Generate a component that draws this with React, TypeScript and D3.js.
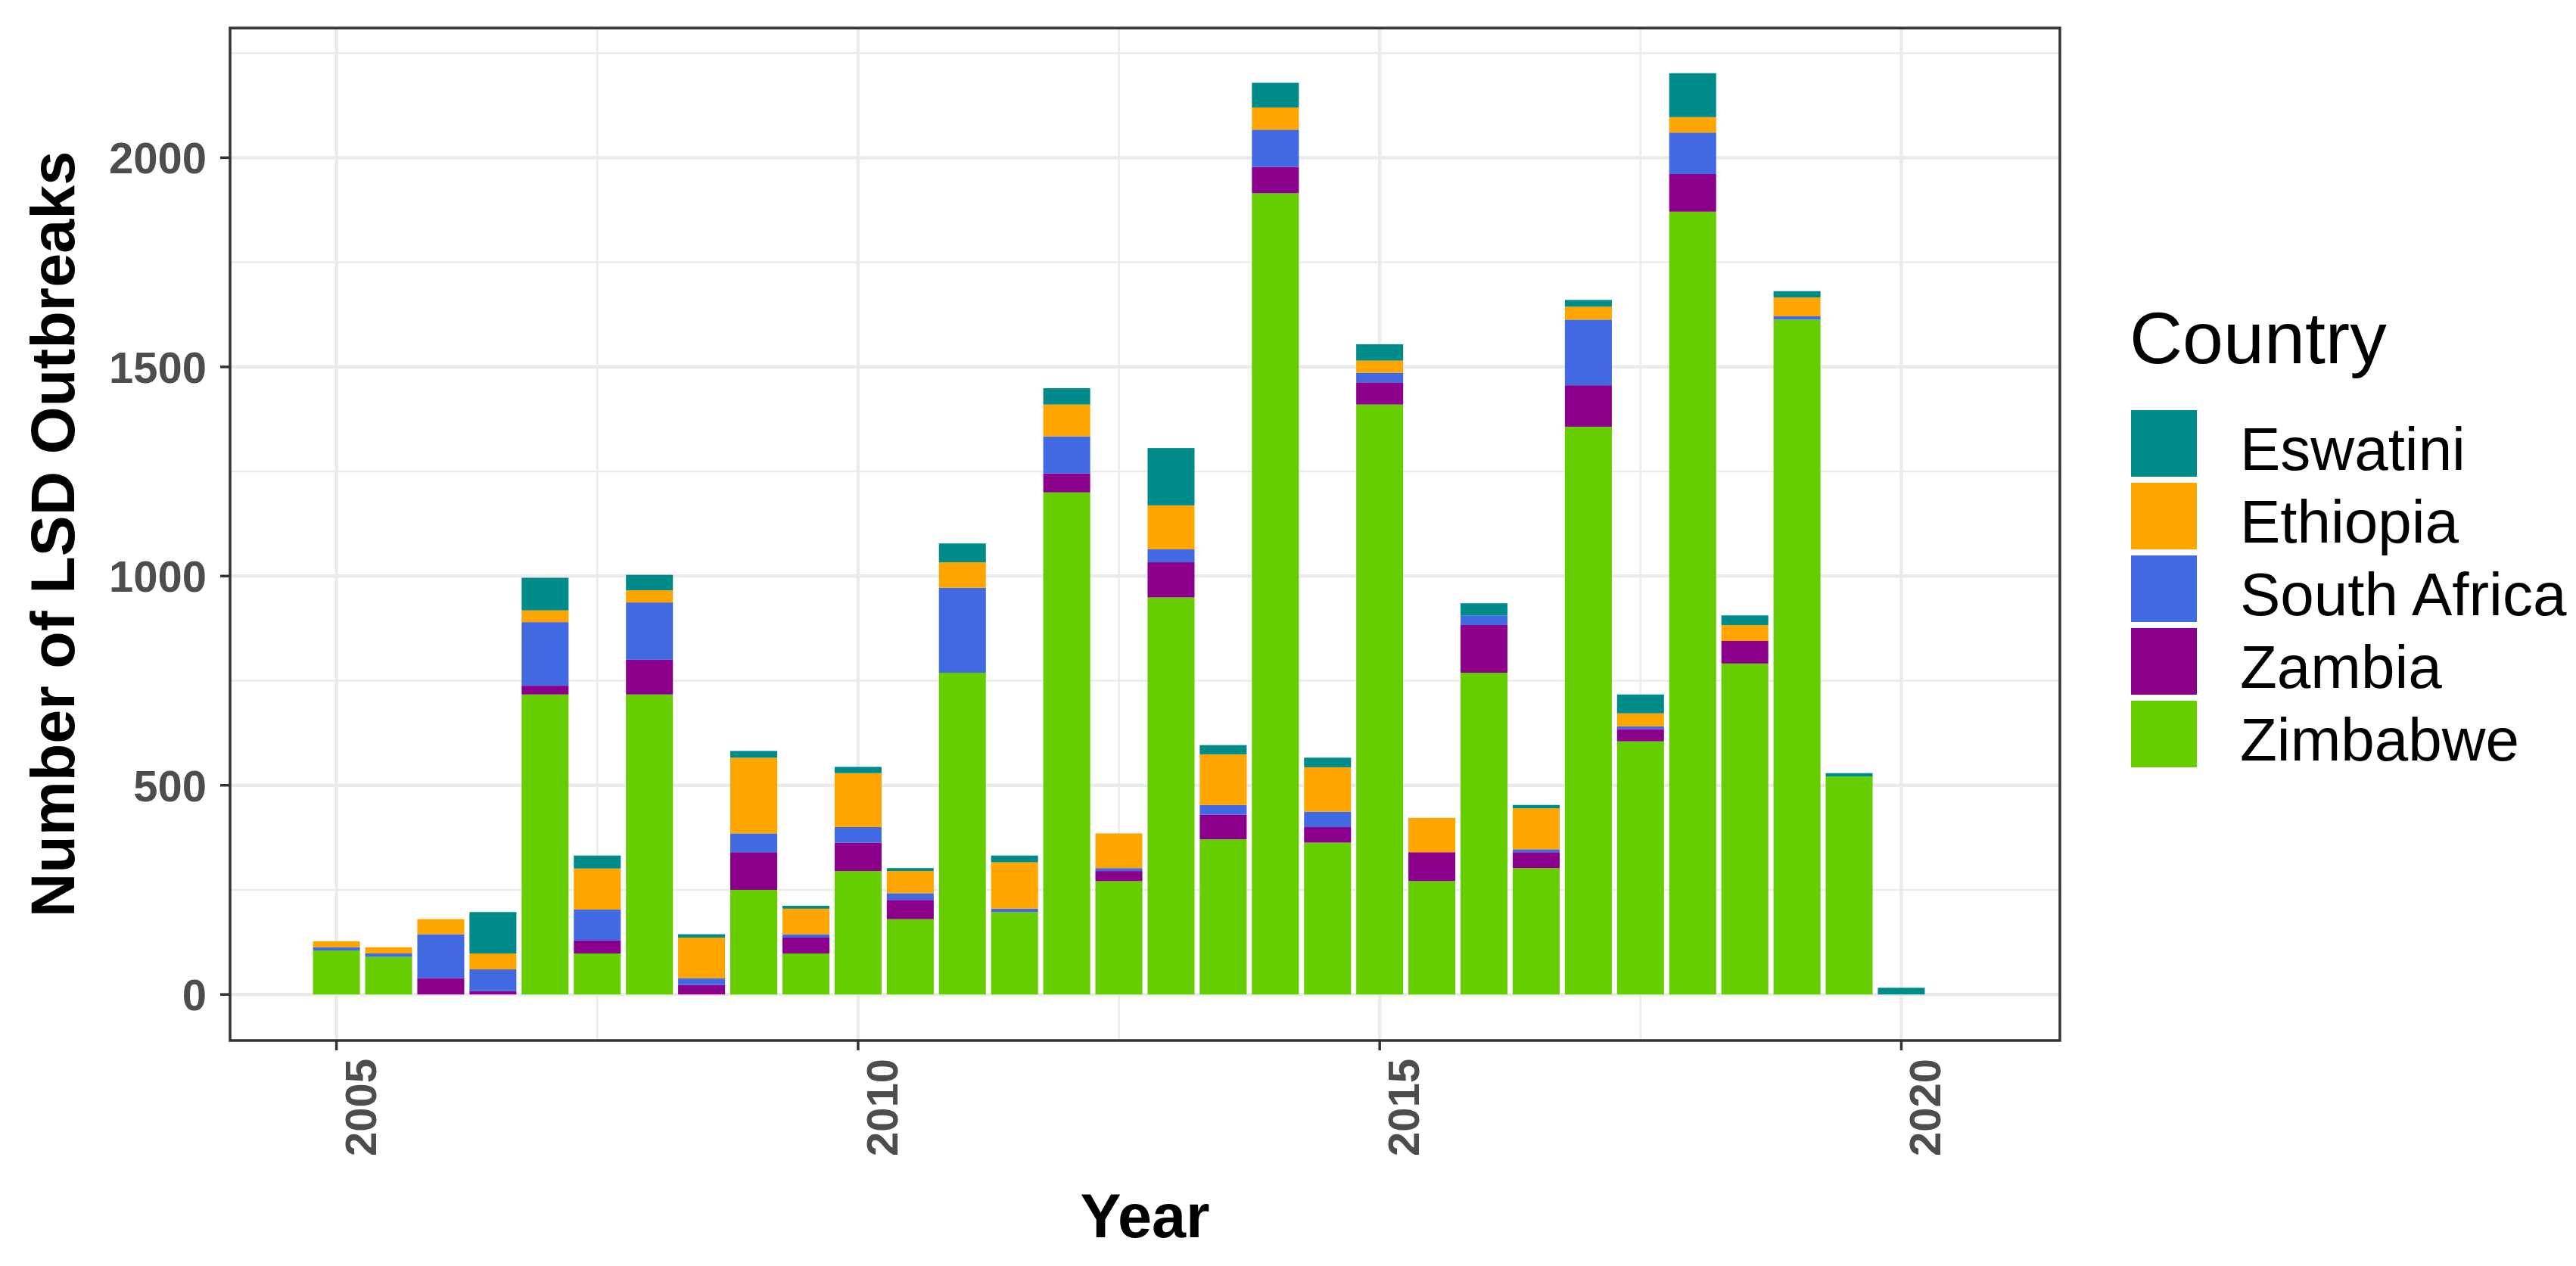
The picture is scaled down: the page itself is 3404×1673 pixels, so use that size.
import React from "react";
import * as d3 from "d3";

const periods = [
  2005, 2005.5, 2006, 2006.5, 2007, 2007.5, 2008, 2008.5, 2009, 2009.5,
  2010, 2010.5, 2011, 2011.5, 2012, 2012.5, 2013, 2013.5, 2014, 2014.5,
  2015, 2015.5, 2016, 2016.5, 2017, 2017.5, 2018, 2018.5, 2019, 2019.5, 2020,
];

const zimbabwe = [105, 90, 0, 0, 717, 98, 717, 0, 250, 98, 295, 180, 769, 197, 1200, 271, 949, 371, 1915, 363, 1410, 271, 769, 302, 1357, 605, 1871, 791, 1613, 521, 0];
const zambia = [0, 0, 39, 8, 21, 31, 83, 23, 90, 38, 68, 46, 0, 0, 45, 24, 84, 59, 63, 37, 53, 69, 114, 38, 99, 29, 90, 54, 0, 0, 0];
const southAfrica = [8, 8, 105, 52, 152, 74, 137, 16, 45, 8, 37, 16, 203, 8, 89, 7, 31, 23, 89, 37, 23, 0, 23, 7, 157, 7, 99, 0, 8, 0, 0];
const ethiopia = [14, 15, 36, 38, 28, 98, 29, 97, 181, 61, 129, 53, 61, 111, 76, 83, 105, 121, 53, 106, 29, 82, 0, 98, 31, 31, 37, 38, 45, 0, 0];
const eswatini = [0, 0, 0, 99, 78, 31, 37, 8, 16, 7, 15, 7, 45, 16, 39, 0, 137, 22, 59, 23, 39, 0, 29, 8, 16, 45, 105, 23, 15, 8, 16];

const countries = ["Eswatini", "Ethiopia", "South Africa", "Zambia", "Zimbabwe"];
const colors = ["#008B8B", "#FFA500", "#4169E1", "#8B008B", "#66CD00"];
const stackOrder = ["Zimbabwe", "Zambia", "South Africa", "Ethiopia", "Eswatini"];

const yTicks = [0, 500, 1000, 1500, 2000];
const yMinor = [250, 750, 1250, 1750, 2250];
const xTicks = [2005, 2010, 2015, 2020];
const xMinor = [2007.5, 2012.5, 2017.5];

const W = 3404;
const H = 1673;
const P = { left: 304, right: 2722, top: 37, bottom: 1375 };
const FONT = "'Liberation Sans', Arial, Helvetica, sans-serif";

export default function App() {
  const rows = periods.map((p, i) => ({
    period: p,
    Zimbabwe: zimbabwe[i],
    Zambia: zambia[i],
    "South Africa": southAfrica[i],
    Ethiopia: ethiopia[i],
    Eswatini: eswatini[i],
  }));
  const x = d3.scaleLinear().domain([2003.98, 2021.52]).range([P.left, P.right]);
  const y = d3.scaleLinear().domain([-110, 2310]).range([P.bottom, P.top]);
  const color = d3.scaleOrdinal<string, string>().domain(countries).range(colors);
  const series = d3.stack<any>().keys(stackOrder)(rows);
  const bw = x(2005.45) - x(2005);

  return (
    <>
      <style>{`body{margin:0}`}</style>
      <svg width={W} height={H} style={{ display: "block", fontFamily: FONT }}>
        <rect x={0} y={0} width={W} height={H} fill="#fff" />
        <g>
          {yMinor.map((v) => (
            <line key={"ym" + v} x1={P.left} x2={P.right} y1={y(v)} y2={y(v)} stroke="#EBEBEB" strokeWidth={2.5} />
          ))}
          {xMinor.map((v) => (
            <line key={"xm" + v} x1={x(v)} x2={x(v)} y1={P.top} y2={P.bottom} stroke="#EBEBEB" strokeWidth={2.5} />
          ))}
          {yTicks.map((v) => (
            <line key={"yM" + v} x1={P.left} x2={P.right} y1={y(v)} y2={y(v)} stroke="#EBEBEB" strokeWidth={4.5} />
          ))}
          {xTicks.map((v) => (
            <line key={"xM" + v} x1={x(v)} x2={x(v)} y1={P.top} y2={P.bottom} stroke="#EBEBEB" strokeWidth={4.5} />
          ))}
        </g>
        <g>
          {series.map((s) => (
            <g key={s.key} fill={color(s.key)}>
              {s.map((d, i) =>
                d[1] - d[0] > 0 ? (
                  <rect
                    key={i}
                    x={x(periods[i]) - bw / 2}
                    width={bw}
                    y={y(d[1])}
                    height={y(d[0]) - y(d[1])}
                  />
                ) : null
              )}
            </g>
          ))}
        </g>
        <rect
          x={P.left}
          y={P.top}
          width={P.right - P.left}
          height={P.bottom - P.top}
          fill="none"
          stroke="#333333"
          strokeWidth={3.5}
        />
        <g>
          {yTicks.map((v) => (
            <g key={"yt" + v}>
              <line x1={P.left - 13} x2={P.left} y1={y(v)} y2={y(v)} stroke="#333333" strokeWidth={3.5} />
              <text
                x={273}
                y={y(v)}
                dy="0.36em"
                textAnchor="end"
                fontSize={58}
                fontWeight="bold"
                fill="#4D4D4D"
              >
                {v}
              </text>
            </g>
          ))}
          {xTicks.map((v) => (
            <g key={"xt" + v}>
              <line x1={x(v)} x2={x(v)} y1={P.bottom} y2={P.bottom + 13} stroke="#333333" strokeWidth={3.5} />
              <text
                transform={`translate(${x(v) + 52},${1399}) rotate(-90)`}
                textAnchor="end"
                fontSize={58}
                fontWeight="bold"
                fill="#4D4D4D"
              >
                {v}
              </text>
            </g>
          ))}
        </g>
        <text x={(P.left + P.right) / 2} y={1635} textAnchor="middle" fontSize={81} fontWeight="bold" fill="#000">
          Year
        </text>
        <text
          transform={`translate(98,${(P.top + P.bottom) / 2}) rotate(-90)`}
          textAnchor="middle"
          fontSize={81}
          fontWeight="bold"
          fill="#000"
        >
          Number of LSD Outbreaks
        </text>
        <g>
          <text x={2814} y={480} fontSize={97} fill="#000">
            Country
          </text>
          {countries.map((c, i) => {
            const top = 542 + i * 96;
            return (
              <g key={c}>
                <rect x={2816} y={top} width={87} height={88} fill={color(c)} />
                <text x={2960} y={top + 79} fontSize={80} fill="#000">
                  {c}
                </text>
              </g>
            );
          })}
        </g>
      </svg>
    </>
  );
}
